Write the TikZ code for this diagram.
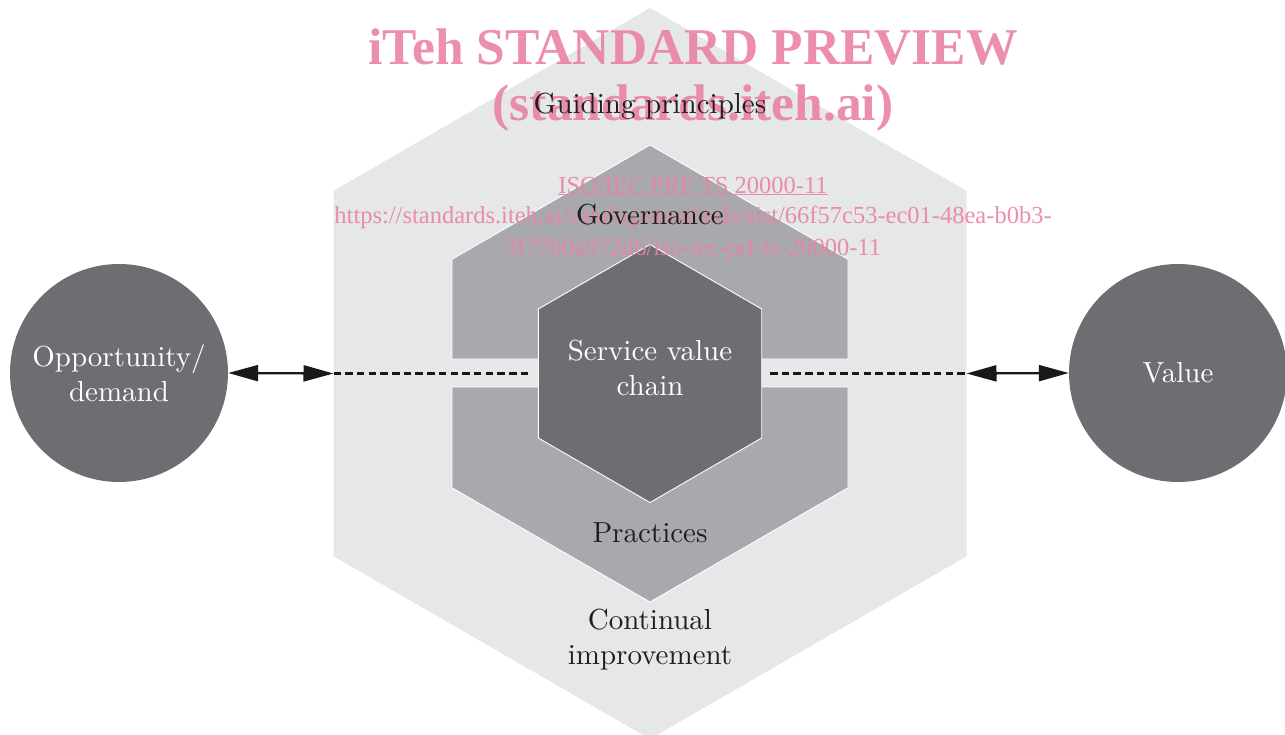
\documentclass[tikz,border=0pt]{standalone}
\usepackage{fontspec}
\newfontfamily\wmfont{Liberation Serif}
\newfontfamily\lbfont{lmroman10-regular}[Extension=.otf]
\usetikzlibrary{arrows.meta}
\definecolor{outerg}{HTML}{E6E7E8}
\definecolor{midg}{HTML}{A7A9AC}
\definecolor{darkg}{HTML}{6D6E71}
\definecolor{wmpink}{HTML}{EA82A5}
\begin{document}
\begin{tikzpicture}[x=1pt,y=-1pt,
  lbl/.style={font=\lbfont\fontsize{29}{35}\selectfont, text=black!88, align=center, inner sep=0pt},
  wlbl/.style={font=\lbfont\fontsize{29}{35}\selectfont, text=white, align=center, inner sep=0pt},
  endcircle/.style={circle, fill=darkg, minimum size=218pt, inner sep=0pt, text=white, align=center, font=\lbfont\fontsize{29}{35}\selectfont},
  hexline/.style={draw=white, line width=0.9pt},
  dbl/.style={{Triangle[length=30pt,width=16pt]}-{Triangle[length=30pt,width=16pt]}, line width=2.3pt, black!90},
  dsh/.style={line width=2.8pt, black!90, dash pattern=on 7.5pt off 4.2pt},
  wmbig/.style={font=\wmfont\bfseries\fontsize{51.5}{56}\selectfont, text=wmpink, opacity=0.9, inner sep=0pt},
  wmsmall/.style={font=\wmfont\fontsize{24.5}{28}\selectfont, text=wmpink, opacity=0.9, inner sep=0pt}
]
\useasboundingbox (0,0) rectangle (1285,735);
% outer hexagon
\fill[outerg] (650,8) -- (966.5,190.8) -- (966.5,556.2) -- (650,739) -- (333.5,556.2) -- (333.5,190.8) -- cycle;
% middle hexagon, split
\fill[midg] (452,359) -- (452,259.2) -- (650,145) -- (848,259.2) -- (848,359) -- cycle;
\draw[hexline] (452,359) -- (452,259.2) -- (650,145) -- (848,259.2) -- (848,359) -- cycle;
\fill[midg] (452,387) -- (848,387) -- (848,487.8) -- (650,602) -- (452,487.8) -- cycle;
\draw[hexline] (452,387) -- (848,387) -- (848,487.8) -- (650,602) -- (452,487.8) -- cycle;
% inner hexagon
\fill[darkg] (650,244.5) -- (761.7,309) -- (761.7,438) -- (650,502.5) -- (538.3,438) -- (538.3,309) -- cycle;
\draw[hexline] (650,244.5) -- (761.7,309) -- (761.7,438) -- (650,502.5) -- (538.3,438) -- (538.3,309) -- cycle;

% watermark
\node[wmbig] (wm1) at (693,47) {iTeh STANDARD PREVIEW};
\node[wmbig] (wm2) at (693,108) {(standards.iteh.ai)};
\node[wmsmall] (wm3) at (693,186) {\underline{ISO/IEC PRF TS 20000-11}};
\node[wmsmall] (wm4) at (693,218) {https://standards.iteh.ai/catalog/standards/sist/66f57c53-ec01-48ea-b0b3-};
\node[wmsmall] (wm5) at (693,249) {3f77b0a972d6/iso-iec-prf-ts-20000-11};

% labels
\node[lbl] (guid) at (650,106) {Guiding principles};
\node[lbl] (gov) at (650,215) {Governance};
\node[wlbl] (svc) at (650,368) {Service value\\chain};
\node[lbl] (prac) at (650,533) {Practices};
\node[lbl] (cont) at (650,640) {Continual\\improvement};

% end circles
\node[endcircle] (opp) at (119,373) {Opportunity/\\demand};
\node[endcircle] (val) at (1178,373) {Value};

% connectors
\coordinate (lh) at (333.5,373.5);
\coordinate (ld) at (530,373.5);
\coordinate (rd) at (770,373.5);
\coordinate (rh) at (966.5,373.5);
\draw[dsh] (lh) -- (ld);
\draw[dsh] (rd) -- (rh);
\draw[dbl] (opp.east) -- (lh);
\draw[dbl] (rh) -- (val.west);
\end{tikzpicture}
\end{document}
